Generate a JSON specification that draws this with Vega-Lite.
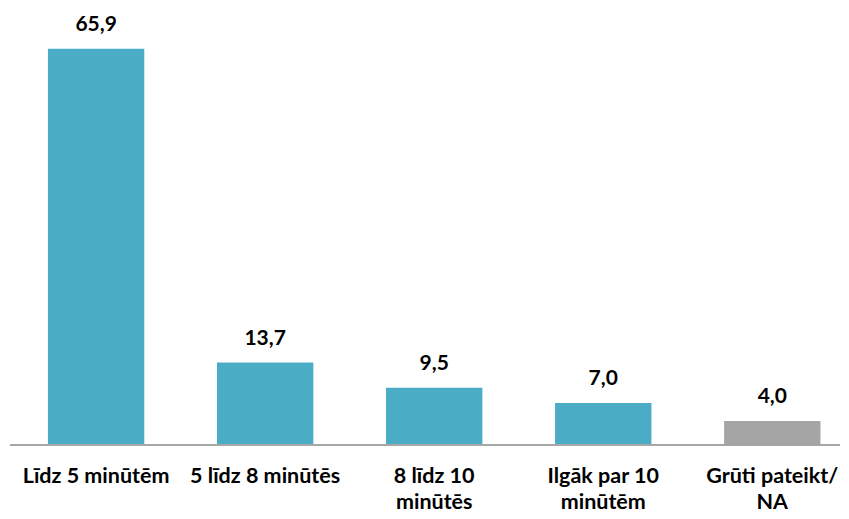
{
  "$schema": "https://vega.github.io/schema/vega-lite/v6.json",
  "width": 830,
  "height": 421,
  "padding": {"left": 10, "top": 24, "right": 9, "bottom": 74},
  "autosize": {"type": "none"},
  "background": "white",
  "config": {
    "view": {"stroke": null},
    "locale": {"number": {"decimal": ",", "thousands": " ", "grouping": [3], "currency": ["", " €"]}},
    "font": "Lato"
  },
  "data": {
    "values": [
      {"kategorija": "Līdz 5 minūtēm", "vertiba": 65.9, "grupa": "a"},
      {"kategorija": "5 līdz 8 minūtēs", "vertiba": 13.7, "grupa": "a"},
      {"kategorija": "8 līdz 10 minūtēs", "vertiba": 9.5, "grupa": "a"},
      {"kategorija": "Ilgāk par 10 minūtēm", "vertiba": 7.0, "grupa": "a"},
      {"kategorija": "Grūti pateikt/ NA", "vertiba": 4.0, "grupa": "b"}
    ]
  },
  "layer": [
    {
      "mark": {"type": "bar"},
      "encoding": {
        "x": {
          "field": "kategorija",
          "type": "nominal",
          "sort": null,
          "scale": {"paddingInner": 0.43, "paddingOuter": 0.17, "align": 0.66},
          "axis": {
            "title": null,
            "labelAngle": 0,
            "ticks": false,
            "domain": false,
            "labelFont": "Lato",
            "labelFontWeight": "bold",
            "labelFontSize": 21.5,
            "labelColor": "#000000",
            "labelPadding": 20,
            "labelLineHeight": 26,
            "labelBaseline": "top",
            "labelExpr": "datum.label == '8 līdz 10 minūtēs' ? ['8 līdz 10', 'minūtēs'] : datum.label == 'Ilgāk par 10 minūtēm' ? ['Ilgāk par 10', 'minūtēm'] : datum.label == 'Grūti pateikt/ NA' ? ['Grūti pateikt/', 'NA'] : datum.label"
          }
        },
        "y": {
          "field": "vertiba",
          "type": "quantitative",
          "scale": {"domain": [0, 70], "nice": false},
          "axis": null
        },
        "color": {
          "field": "grupa",
          "type": "nominal",
          "scale": {"domain": ["a", "b"], "range": ["#4BACC6", "#A5A5A5"]},
          "legend": null
        }
      }
    },
    {
      "mark": {"type": "text", "baseline": "alphabetic", "dy": -18, "fontSize": 21, "fontWeight": "bold", "font": "Lato", "color": "#000000"},
      "encoding": {
        "x": {"field": "kategorija", "type": "nominal", "sort": null},
        "y": {"field": "vertiba", "type": "quantitative"},
        "text": {"field": "vertiba", "type": "quantitative", "format": ".1f"}
      }
    },
    {
      "mark": {"type": "rule", "color": "#A6A6A6", "strokeWidth": 1.5},
      "encoding": {
        "y": {"datum": 0}
      }
    }
  ]
}
